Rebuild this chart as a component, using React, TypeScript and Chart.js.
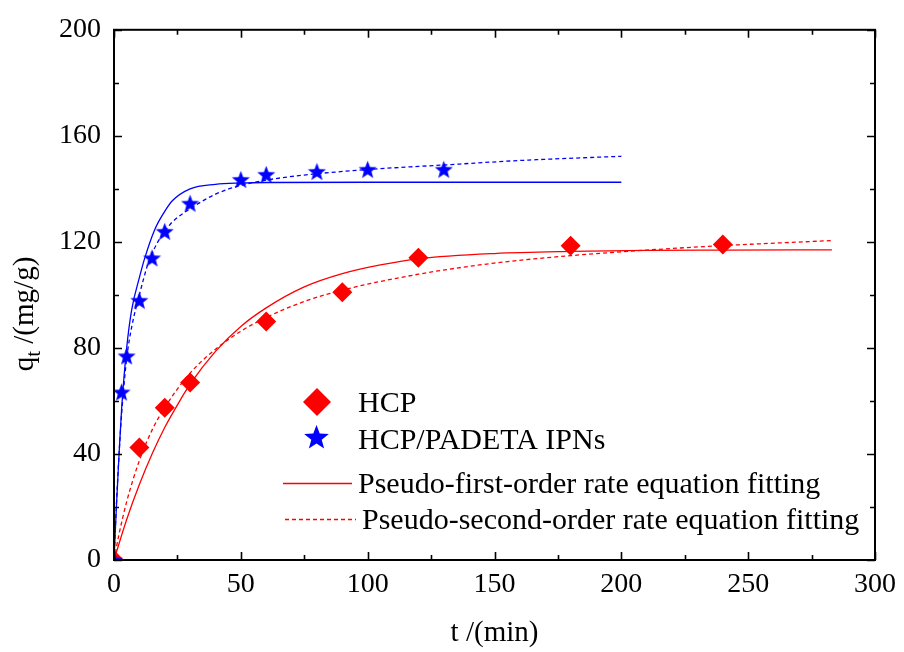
import { useEffect, useRef } from 'react';
import { Chart, registerables } from 'chart.js';

Chart.register(...registerables);

// Experimental data
const hcpTime = [0, 10, 20, 30, 60, 90, 120, 180, 240];
const hcpQt = [0, 42.4, 57.4, 67, 90, 101, 114, 118.5, 119];
const ipnTime = [0, 3, 5, 10, 15, 20, 30, 50, 60, 80, 100, 130];
const ipnQt = [0, 63.4, 77, 98, 114, 124, 134.6, 143.6, 145.5, 146.6, 147.4, 147.4];

// Fitted curves
const hcpPfoTime = [0, 5, 10, 15, 20, 25, 30, 40, 50, 60, 75, 90, 105, 120, 150, 180, 210, 240, 283];
const hcpPfoQt = [0, 15.3, 28.5, 40, 50, 58.5, 66.3, 78.7, 88.1, 95.1, 103, 108, 111.3, 113.6, 115.6, 116.4, 116.8, 116.9, 117];
const hcpPsoTime = [0, 2, 5, 10, 15, 20, 30, 40, 50, 60, 75, 90, 120, 150, 180, 210, 240, 283];
const hcpPsoQt = [0, 9.8, 22, 37.5, 49, 57.5, 70.5, 79.5, 86.3, 91.5, 97.5, 101.8, 107.8, 112, 114.8, 116.9, 118.6, 120.5];
const ipnPfoTime = [0, 1, 2, 3, 5, 7, 10, 12, 16, 20, 23, 30, 40, 50, 60, 100, 150, 200];
const ipnPfoQt = [0, 21, 40, 57, 80, 94.5, 106.5, 113.5, 124.5, 131.5, 135.5, 140, 141.7, 142.2, 142.4, 142.5, 142.5, 142.5];
const ipnPsoTime = [0, 1, 2, 3, 5, 7, 10, 13.5, 17, 20, 23, 30, 40, 50, 60, 75, 100, 130, 160, 200];
const ipnPsoQt = [0, 22, 40, 55, 76, 88, 100, 112, 119.5, 124, 127.5, 132.5, 138, 141.3, 143.3, 145.2, 147.3, 149, 150.7, 152.3];

// Axis ticks
const xMajor = [0, 50, 100, 150, 200, 250, 300];
const xMinor = [25, 75, 125, 175, 225, 275];
const yMajor = [0, 40, 80, 120, 160, 200];
const yMinor = [20, 60, 100, 140, 180];

const legendLabels = ['HCP', 'HCP/PADETA IPNs', 'Pseudo-first-order rate equation fitting', 'Pseudo-second-order rate equation fitting'];

const FONT = "'Liberation Serif', 'Times New Roman', serif";
const RED = '#ff0000';
const BLUE = '#0000ff';

function drawStarPath(ctx: CanvasRenderingContext2D, cx: number, cy: number, R: number, r: number) {
  ctx.beginPath();
  for (let i = 0; i < 10; i++) {
    const rad = i % 2 === 0 ? R : r;
    const a = -Math.PI / 2 + (i * Math.PI) / 5;
    const x = cx + rad * Math.cos(a);
    const y = cy + rad * Math.sin(a);
    if (i === 0) ctx.moveTo(x, y);
    else ctx.lineTo(x, y);
  }
  ctx.closePath();
}

function makeStar(R: number) {
  const size = Math.ceil(R * 2 + 2);
  const c = document.createElement('canvas');
  c.width = size;
  c.height = size;
  const ctx = c.getContext('2d')!;
  ctx.fillStyle = BLUE;
  drawStarPath(ctx, size / 2, size / 2 + R * 0.1, R, R * 0.42);
  ctx.fill();
  return c;
}

const zip = (xs: number[], ys: number[]) => xs.map((x, i) => ({ x, y: ys[i] }));

export default function App() {
  const ref = useRef<HTMLCanvasElement | null>(null);

  useEffect(() => {
    if (!ref.current) return;
    const starImg = makeStar(9.5);

    const framePlugin = {
      id: 'frameTicks',
      afterDraw(chart: any) {
        const ctx: CanvasRenderingContext2D = chart.ctx;
        const { left, right, top, bottom } = chart.chartArea;
        const xs = chart.scales.x;
        const ys = chart.scales.y;
        ctx.save();
        ctx.strokeStyle = '#000';
        ctx.lineWidth = 1.6;
        const tick = (vals: number[], len: number) => {
          vals.forEach((v) => {
            const px = Math.round(xs.getPixelForValue(v)) + 0.5;
            ctx.beginPath();
            ctx.moveTo(px, bottom);
            ctx.lineTo(px, bottom - len);
            ctx.moveTo(px, top);
            ctx.lineTo(px, top + len);
            ctx.stroke();
          });
        };
        const tickY = (vals: number[], len: number) => {
          vals.forEach((v) => {
            const py = Math.round(ys.getPixelForValue(v)) + 0.5;
            ctx.beginPath();
            ctx.moveTo(left, py);
            ctx.lineTo(left + len, py);
            ctx.moveTo(right, py);
            ctx.lineTo(right - len, py);
            ctx.stroke();
          });
        };
        tick(xMajor, 8);
        tick(xMinor, 5);
        tickY(yMajor, 8);
        tickY(yMinor, 5);
        ctx.lineWidth = 2;
        ctx.strokeRect(left, top, right - left, bottom - top);

        // Axis titles
        ctx.fillStyle = '#000';
        ctx.textBaseline = 'alphabetic';
        ctx.font = `29px ${FONT}`;
        ctx.textAlign = 'center';
        ctx.fillText('t /(min)', (left + right) / 2, 641);

        // Y title with subscript
        ctx.save();
        ctx.translate(33, 314);
        ctx.rotate(-Math.PI / 2);
        ctx.textAlign = 'left';
        ctx.font = `29px ${FONT}`;
        const wq = ctx.measureText('q').width;
        ctx.font = `21px ${FONT}`;
        const wt = ctx.measureText('t').width;
        ctx.font = `29px ${FONT}`;
        const rest = ' /(mg/g)';
        const wr = ctx.measureText(rest).width;
        const total = wq + wt + wr;
        let x0 = -total / 2;
        ctx.fillText('q', x0, 0);
        x0 += wq;
        ctx.font = `21px ${FONT}`;
        ctx.fillText('t', x0, 7);
        x0 += wt;
        ctx.font = `29px ${FONT}`;
        ctx.fillText(rest, x0, 0);
        ctx.restore();

        // Legend
        ctx.fillStyle = RED;
        ctx.beginPath();
        ctx.moveTo(317, 388);
        ctx.lineTo(331, 402);
        ctx.lineTo(317, 416);
        ctx.lineTo(303, 402);
        ctx.closePath();
        ctx.fill();
        ctx.fillStyle = BLUE;
        drawStarPath(ctx, 316.5, 438, 13, 13 * 0.42);
        ctx.fill();

        ctx.strokeStyle = RED;
        ctx.lineWidth = 1.3;
        ctx.beginPath();
        ctx.moveTo(283, 483.5);
        ctx.lineTo(352, 483.5);
        ctx.stroke();
        ctx.setLineDash([4, 3]);
        ctx.beginPath();
        ctx.moveTo(285, 519.5);
        ctx.lineTo(356, 519.5);
        ctx.stroke();
        ctx.setLineDash([]);

        ctx.fillStyle = '#000';
        ctx.font = `30px ${FONT}`;
        ctx.textAlign = 'left';
        ctx.fillText(legendLabels[0], 358, 412);
        ctx.fillText(legendLabels[1], 358, 449);
        ctx.fillText(legendLabels[2], 358, 493);
        ctx.fillText(legendLabels[3], 362, 529);
        ctx.restore();
      },
    };

    const chart = new Chart(ref.current, {
      type: 'scatter',
      data: {
        datasets: [
          {
            label: legendLabels[1],
            data: zip(ipnTime, ipnQt),
            pointStyle: starImg as any,
            pointRadius: 9,
            showLine: false,
            clip: 0 as any,
          },
          {
            label: legendLabels[0],
            data: zip(hcpTime, hcpQt),
            pointStyle: 'rectRot',
            pointRadius: 10,
            backgroundColor: RED,
            borderColor: RED,
            borderWidth: 0,
            showLine: false,
            clip: 0 as any,
          },
          {
            label: 'HCP PFO',
            data: zip(hcpPfoTime, hcpPfoQt),
            showLine: true,
            pointRadius: 0,
            borderColor: RED,
            borderWidth: 1.3,
            cubicInterpolationMode: 'monotone',
          },
          {
            label: 'HCP PSO',
            data: zip(hcpPsoTime, hcpPsoQt),
            showLine: true,
            pointRadius: 0,
            borderColor: RED,
            borderWidth: 1.3,
            borderDash: [4, 3],
            cubicInterpolationMode: 'monotone',
          },
          {
            label: 'IPN PFO',
            data: zip(ipnPfoTime, ipnPfoQt),
            showLine: true,
            pointRadius: 0,
            borderColor: BLUE,
            borderWidth: 1.3,
            cubicInterpolationMode: 'monotone',
          },
          {
            label: 'IPN PSO',
            data: zip(ipnPsoTime, ipnPsoQt),
            showLine: true,
            pointRadius: 0,
            borderColor: BLUE,
            borderWidth: 1.3,
            borderDash: [4, 3],
            cubicInterpolationMode: 'monotone',
          },
        ] as any,
      },
      options: {
        animation: false,
        responsive: false,
        maintainAspectRatio: false,
        layout: { padding: { top: 27, right: 28, left: 0, bottom: 0 } },
        plugins: { legend: { display: false }, tooltip: { enabled: false } },
        scales: {
          x: {
            type: 'linear',
            min: 0,
            max: 300,
            grid: { display: false, drawTicks: false },
            border: { display: false },
            ticks: { stepSize: 50, color: '#000', font: { size: 28, family: FONT }, padding: 8, maxRotation: 0 },
            afterFit: (s: any) => { s.height = 92; },
          },
          y: {
            type: 'linear',
            min: 0,
            max: 200,
            grid: { display: false, drawTicks: false },
            border: { display: false },
            ticks: { stepSize: 40, color: '#000', font: { size: 28, family: FONT }, padding: 13 },
            afterFit: (s: any) => { s.width = 114; },
          },
        },
      },
      plugins: [framePlugin],
    });
    return () => chart.destroy();
  }, []);

  return (
    <div style={{ position: 'absolute', left: 0, top: 0, width: 904, height: 652, background: '#fff' }}>
      <canvas ref={ref} width={904} height={652} />
    </div>
  );
}
